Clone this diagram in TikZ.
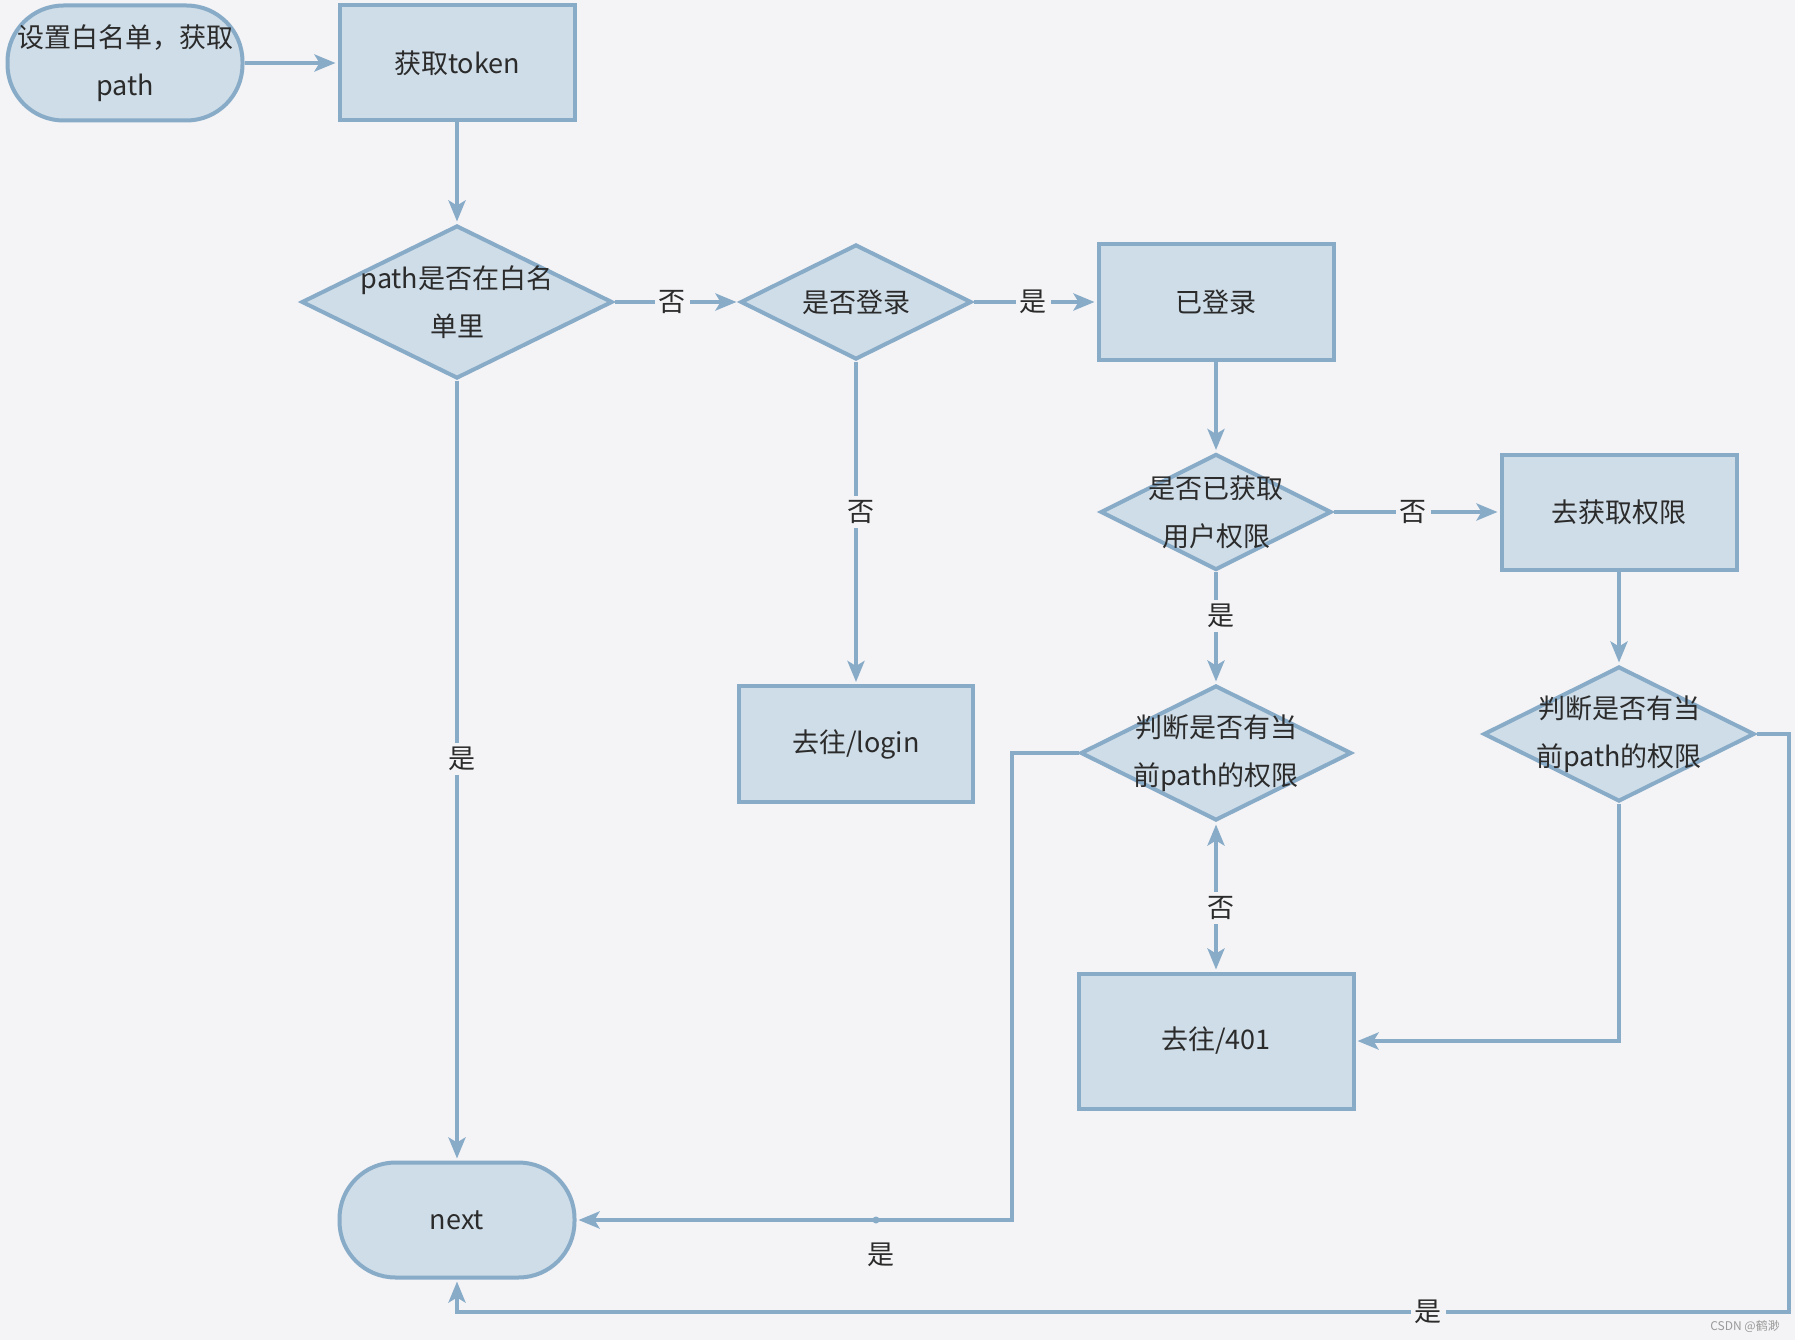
\documentclass[tikz,border=0pt]{standalone}
\usepackage{fontspec}
\setmainfont{Noto Sans CJK SC}
\usetikzlibrary{shapes.geometric,arrows.meta}
\definecolor{bgc}{HTML}{F4F4F6}
\definecolor{edgec}{HTML}{88ABC8}
\definecolor{fillc}{HTML}{CFDDE8}
\definecolor{txtc}{HTML}{2B2B2B}
\definecolor{wmc}{HTML}{9A9A9A}
\begin{document}
\begin{tikzpicture}[x=1pt,y=-1pt,
  base/.style={draw=edgec, fill=fillc, line width=4pt, text=txtc,
    font=\fontsize{27}{48}\selectfont, align=center, inner sep=0pt},
  term/.style={base, rectangle, rounded corners=56pt, minimum width=235pt, minimum height=115pt},
  boxn/.style={base, rectangle},
  dia/.style={base, diamond},
  dtxt/.style={text=txtc, font=\fontsize{27}{48}\selectfont, align=center, inner sep=0pt},
  arr/.style={draw=edgec, line width=4pt, -{Stealth[length=21pt,width=17pt,inset=5pt]}, shorten >=2pt},
  arrtwo/.style={draw=edgec, line width=4pt, {Stealth[length=21pt,width=17pt,inset=5pt]}-{Stealth[length=21pt,width=17pt,inset=5pt]}, shorten >=2pt, shorten <=2pt},
  lab/.style={fill=bgc, text=txtc, font=\fontsize{27}{27}\selectfont, inner sep=4pt},
  wm/.style={text=wmc, font=\fontsize{12}{12}\selectfont, inner sep=0pt}
]
\fill[bgc] (0,0) rectangle (1795,1340);
\useasboundingbox (0,0) rectangle (1795,1340);

% nodes
\node[term] (start) at (125,63) {设置白名单，获取\\path};
\node[boxn, minimum width=235pt, minimum height=115pt] (token) at (457,63) {获取token};
\node[dia, minimum width=311pt, minimum height=153pt,
  label={[dtxt]center:path是否在白名\\单里}] (d1) at (457,302) {};
\node[dia, minimum width=231pt, minimum height=115pt,
  label={[dtxt]center:是否登录}] (d2) at (856,302) {};
\node[boxn, minimum width=235pt, minimum height=116pt] (logged) at (1216,302) {已登录};
\node[boxn, minimum width=234pt, minimum height=116pt] (login) at (856,744) {去往/login};
\node[dia, minimum width=231pt, minimum height=116pt,
  label={[dtxt]center:是否已获取\\用户权限}] (d3) at (1216,512) {};
\node[boxn, minimum width=235pt, minimum height=115pt] (getp) at (1619,512) {去获取权限};
\node[dia, minimum width=271pt, minimum height=135pt,
  label={[dtxt]center:判断是否有当\\前path的权限}] (d4) at (1216,753) {};
\node[dia, minimum width=271pt, minimum height=135pt,
  label={[dtxt]center:判断是否有当\\前path的权限}] (d5) at (1619,734) {};
\node[boxn, minimum width=275pt, minimum height=135pt] (e401) at (1216,1041) {去往/401};
\node[term] (next) at (457,1220) {next};

\coordinate (c1) at (1012,1220);
\coordinate (c2) at (1789,1312);

% connectors
\draw[arr] (start) -- (token);
\draw[arr] (token) -- (d1);
\draw[arr] (d1) -- (d2);
\draw[arr] (d2) -- (logged);
\draw[arr] (d2) -- (login);
\draw[arr] (logged) -- (d3);
\draw[arr] (d3) -- (getp);
\draw[arr] (d3) -- (d4);
\draw[arr] (getp) -- (d5);
\draw[arrtwo] (d4.south) -- (e401.north);
\draw[arr] (d5.south) |- (e401.east);
\draw[arr] (d1.south) -- (next.north);
\draw[arr] (d4.west) -| (c1) -- (next.east);
\draw[arr] (d5.east) -| (c2) -| (next.south);
\fill[edgec] (876,1220) circle (3.5pt);

% labels
\node[lab] (l1) at (672,302) {否};
\node[lab] (l2) at (1033,302) {是};
\node[lab] (l3) at (861,512) {否};
\node[lab] (l4) at (1413,512) {否};
\node[lab] (l5) at (1221,616) {是};
\node[lab] (l6) at (1221,908) {否};
\node[lab] (l7) at (462,759) {是};
\node[lab, fill=none] (l8) at (881,1255) {是};
\node[lab] (l9) at (1428,1312) {是};
\node[wm, anchor=east] (wmark) at (1780,1326) {CSDN @鹤渺};
\end{tikzpicture}
\end{document}
